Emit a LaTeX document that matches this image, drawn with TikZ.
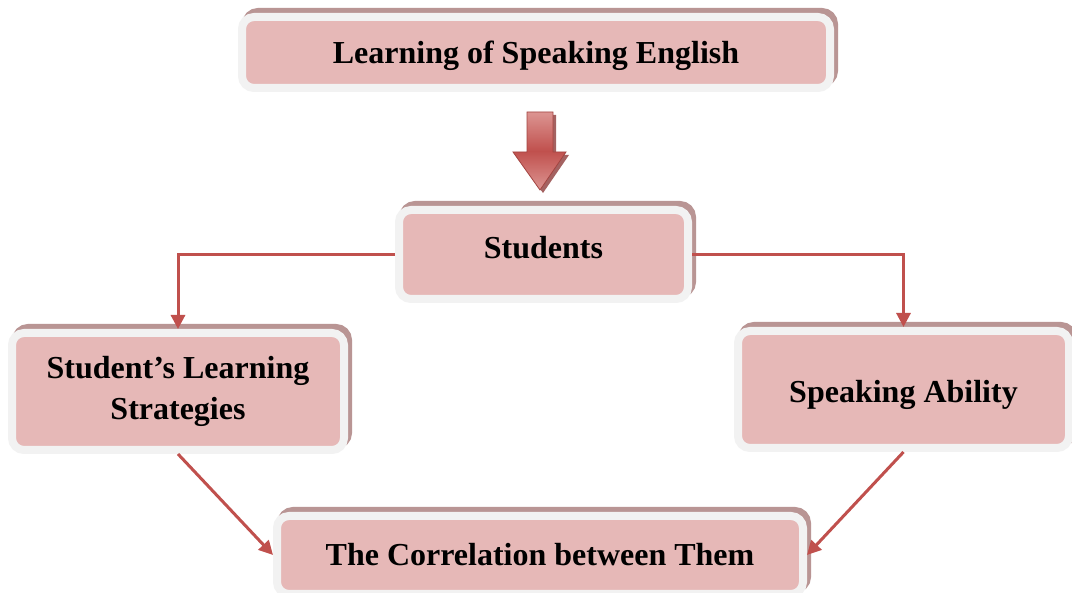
\documentclass[tikz,border=0pt]{standalone}
\usepackage{fontspec}
\setmainfont{Liberation Serif}
\usetikzlibrary{arrows.meta}
\definecolor{boxpink}{HTML}{E6B8B7}
\definecolor{boxrim}{HTML}{F2F2F2}
\definecolor{boxshade}{HTML}{B99594}
\definecolor{linkred}{HTML}{C0504D}
\definecolor{arrowlite}{HTML}{DC9592}
\definecolor{arrowdark}{HTML}{8E3B39}
\tikzset{blk/.style={rectangle, rounded corners=12pt, fill=boxpink, draw=boxrim, line width=8pt, inner sep=0pt, align=center, font=\fontsize{32}{41}\selectfont\bfseries, preaction={draw=boxshade, fill=boxshade, transform canvas={xshift=4pt, yshift=5pt}}}}
\tikzset{con/.style={draw=linkred, line width=3pt, -{Triangle[length=14pt,width=14pt]}}}
\tikzset{every picture/.style={x=1pt, y=-1pt}}
% move a label up or down without changing its box
\newcommand{\lift}[2]{\raisebox{#1}[\height][\depth]{#2}}

\begin{document}
\begin{tikzpicture}
  \fill[white] (0,0) rectangle (1072,593);
  \useasboundingbox (0,0) rectangle (1072,593);
  \node[blk, minimum width=588pt, minimum height=71pt] (lse) at (536,52.5) {\lift{-3pt}{Learning of Speaking English}};
  \node[blk, minimum width=289pt, minimum height=89pt] (stud) at (543.5,254.5) {\lift{7pt}{Students}};
  \node[blk, minimum width=332pt, minimum height=117pt] (lsb) at (178,391.5) {Student’s Learning\\Strategies};
  \node[blk, minimum width=331pt, minimum height=117pt] (sab) at (903.5,389.5) {\lift{-5pt}{Speaking Ability}};
  \node[blk, minimum width=526pt, minimum height=78pt] (cor) at (540,555) {The Correlation between Them};
  % block arrow between the first two boxes
  \begin{scope}[shift={(3,3)}]
    \fill[arrowdark!80] (527,112) -- (553,112) -- (553,152) -- (566,152) -- (540,190) -- (513,152) -- (527,152) -- cycle;
  \end{scope}
  \shade[top color=arrowlite, bottom color=arrowlite, middle color=linkred, draw=linkred!85!black, line width=.8pt]
    (527,112) -- (553,112) -- (553,152) -- (566,152) -- (540,190) -- (513,152) -- (527,152) -- cycle;
  \draw[con] (stud.west) -| (lsb.north);
  \draw[con] (stud.east) -| (sab.north);
  \draw[con] (lsb.south) -- (cor.west);
  \draw[con] (sab.south) -- (cor.east);
\end{tikzpicture}
\end{document}
